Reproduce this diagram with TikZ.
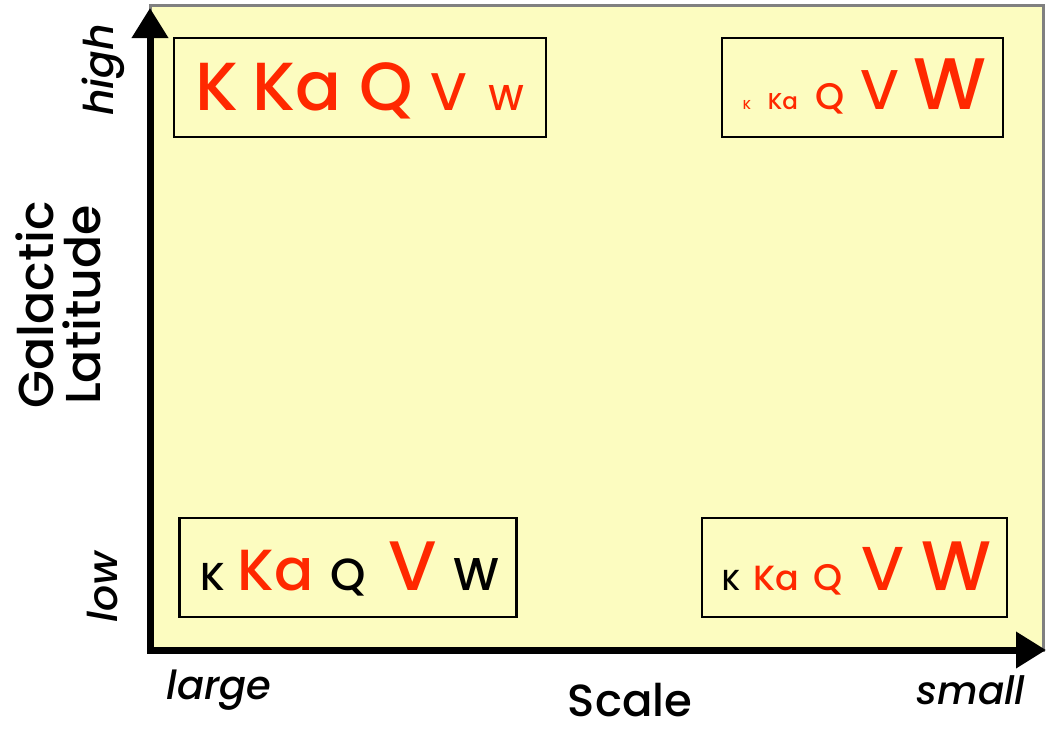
\documentclass[tikz,border=0pt]{standalone}
\usepackage{fontspec}
\setmainfont{Poppins}[UprightFont=* Medium, ItalicFont=* Medium Italic]
\usetikzlibrary{arrows.meta, positioning}
\definecolor{panelyellow}{RGB}{252,252,192}
\definecolor{bandred}{RGB}{255,40,0}
\newcommand{\fsz}[1]{\fontsize{#1}{#1}\selectfont}

\begin{document}
\begin{tikzpicture}[x=1pt, y=-1pt,
    axis/.style={line width=7pt, line join=miter, {Triangle[width=35pt, length=30pt]}-{Triangle[width=35pt, length=30pt]}},
    bandbox/.style={draw, line width=2.8pt, inner sep=0pt},
    ch/.style={anchor=base, inner sep=0pt, text=bandred},
    chk/.style={ch, text=black},
    axlab/.style={inner sep=0pt}
]
    \useasboundingbox (0,0) rectangle (1050,731);
    % background panel
    \draw[gray, line width=3pt, fill=panelyellow] (150,5) rectangle (1043,650);
    % axes
    \coordinate (ytop) at (150,8);
    \coordinate (origin) at (150,650);
    \coordinate (xend) at (1046,650);
    \draw[axis] (ytop) -- (origin) -- (xend);

    % high latitude, large scale
    \node[bandbox, minimum width=372pt, minimum height=99pt] (hilarge) at (360,87.5) {};
    \node[ch, font=\fsz{68}] (hlK) at (217,110) {K};
    \node[ch, font=\fsz{68}] (hlKa) at (297,110) {Ka};
    \node[ch, font=\fsz{68}] (hlQ) at (386,110) {Q};
    \node[ch, font=\fsz{53}] (hlV) at (449,110) {V};
    \node[ch, font=\fsz{36}] (hlW) at (506,110) {W};

    % high latitude, small scale
    \node[bandbox, minimum width=281pt, minimum height=99pt] (hismall) at (862.5,87.5) {};
    \node[ch, font=\fsz{13}] (hsK) at (747,109) {K};
    \node[ch, font=\fsz{23}] (hsKa) at (783,109) {Ka};
    \node[ch, font=\fsz{37}] (hsQ) at (830,109) {Q};
    \node[ch, font=\fsz{56}] (hsV) at (880,109) {V};
    \node[ch, font=\fsz{73}] (hsW) at (950,109) {W};

    % low latitude, large scale
    \node[bandbox, minimum width=337pt, minimum height=99pt] (lolarge) at (348,567.5) {};
    \node[chk, font=\fsz{39}] (llK) at (213,590) {K};
    \node[ch, font=\fsz{58}] (llKa) at (276,590) {Ka};
    \node[chk, font=\fsz{45}] (llQ) at (348,590) {Q};
    \node[ch, font=\fsz{70}] (llV) at (413,590) {V};
    \node[chk, font=\fsz{46}] (llW) at (476,590) {W};

    % low latitude, small scale
    \node[bandbox, minimum width=305pt, minimum height=99pt] (losmall) at (854.5,567.5) {};
    \node[chk, font=\fsz{29}] (lsK) at (731,590) {K};
    \node[ch, font=\fsz{35}] (lsKa) at (776,590) {Ka};
    \node[ch, font=\fsz{37}] (lsQ) at (828,590) {Q};
    \node[ch, font=\fsz{62}] (lsV) at (883,590) {V};
    \node[ch, font=\fsz{70}] (lsW) at (956,590) {W};

    % axis labels
    \node[axlab, rotate=90, align=center, font=\fontsize{49}{47}\selectfont] (latlab) at (58,305) {Galactic\\Latitude};
    \node[axlab, rotate=90, font=\itshape\fsz{41}] (hilab) at (103,70) {high};
    \node[axlab, rotate=90, font=\itshape\fsz{41}] (lolab) at (103,587) {low};
    \node[axlab, font=\fsz{45}] (scalelab) at (630,700) {Scale};
    \node[axlab, font=\itshape\fsz{40}] (largelab) at (219,690) {large};
    \node[axlab, font=\itshape\fsz{39}] (smalllab) at (971,690) {small};
\end{tikzpicture}
\end{document}
